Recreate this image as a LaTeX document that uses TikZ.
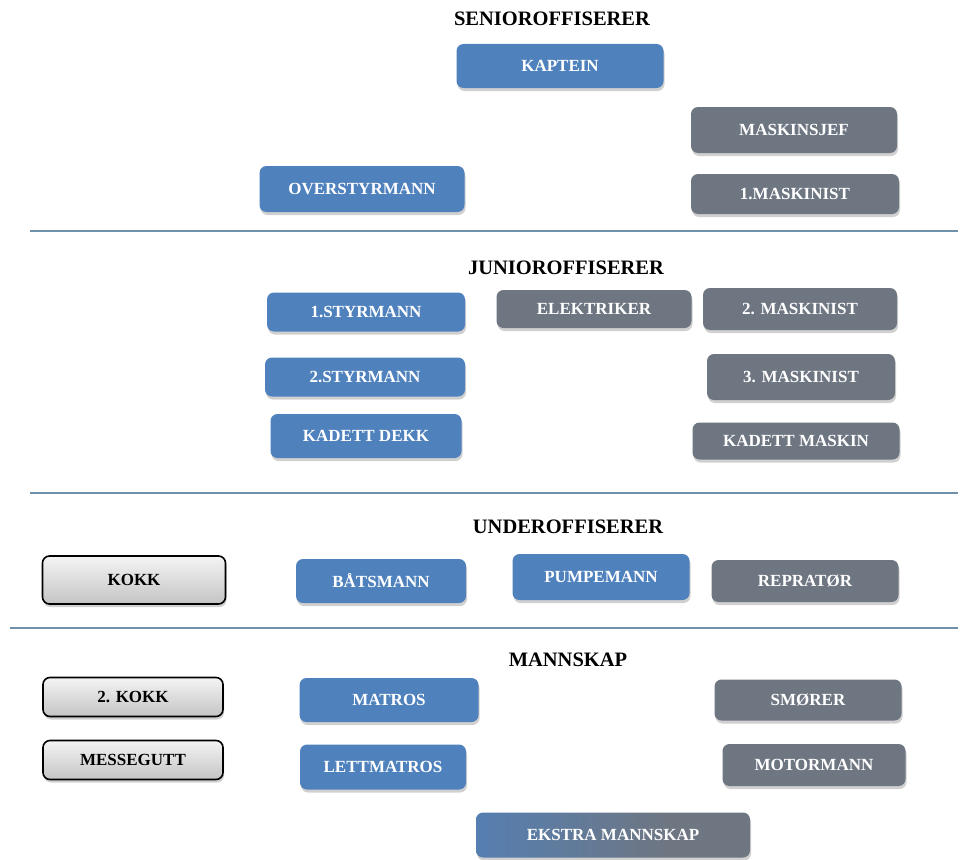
\documentclass[tikz,border=0pt]{standalone}
\usepackage{fontspec}
\setmainfont{Liberation Serif}
\usetikzlibrary{shadows}

\definecolor{crewblue}{RGB}{79,129,189}
\definecolor{crewgray}{RGB}{110,118,130}
\definecolor{ruleblue}{RGB}{110,145,170}
\definecolor{galleytop}{RGB}{244,244,244}
\definecolor{galleybot}{RGB}{196,196,196}

% blue fading into gray for the mixed box
\pgfdeclarehorizontalshading{bluetogray}{100bp}{
  color(0bp)=(crewblue); color(25bp)=(crewblue!80!crewgray);
  color(60bp)=(crewgray); color(100bp)=(crewgray)}

\tikzset{
  rolebox/.style={rounded corners=7pt, align=center, inner sep=0pt,
    font=\fontsize{17}{19}\selectfont\bfseries,
    drop shadow={shadow xshift=1pt, shadow yshift=-3pt, opacity=0.3, fill=black!60}},
  deckbox/.style={rolebox, fill=crewblue, text=white},
  enginebox/.style={rolebox, fill=crewgray, text=white},
  galleybox/.style={rolebox, draw=black, line width=1.6pt, top color=galleytop,
    bottom color=galleybot, text=black},
  mixedbox/.style={rolebox, shading=bluetogray, text=white},
  rankhead/.style={font=\fontsize{20.5}{23}\selectfont\bfseries, text=black},
  rankrule/.style={draw=ruleblue, line width=1.6pt}
}

\begin{document}
\begin{tikzpicture}[x=1pt, y=-1pt]
\useasboundingbox[fill=white] (0,0) rectangle (960,859);

% ---- senior officers ----
\node[rankhead] (senior) at (552,19) {SENIOROFFISERER};
\node[deckbox, minimum width=207pt, minimum height=44pt] (kaptein) at (560,66) {KAPTEIN};
\node[enginebox, minimum width=206pt, minimum height=46pt] (maskinsjef) at (794,130) {MASKINSJEF};
\node[deckbox, minimum width=205pt, minimum height=46pt] (overstyrmann) at (362,189) {OVERSTYRMANN};
\node[enginebox, minimum width=208pt, minimum height=40pt] (maskinist1) at (795,194) {1.MASKINIST};

\draw[rankrule] (30,231) -- (958,231);

% ---- junior officers ----
\node[rankhead] (junior) at (566,268) {JUNIOROFFISERER};
\node[deckbox, minimum width=198pt, minimum height=39pt] (styrmann1) at (366,312) {1.STYRMANN};
\node[enginebox, minimum width=195pt, minimum height=38pt] (elektriker) at (594,309) {ELEKTRIKER};
\node[enginebox, minimum width=194pt, minimum height=42pt] (maskinist2) at (800,309) {2. MASKINIST};
\node[deckbox, minimum width=200pt, minimum height=39pt] (styrmann2) at (365,377) {2.STYRMANN};
\node[enginebox, minimum width=188pt, minimum height=46pt] (maskinist3) at (801,377) {3. MASKINIST};
\node[deckbox, minimum width=191pt, minimum height=44pt] (kadettdekk) at (366,436) {KADETT DEKK};
\node[enginebox, minimum width=207pt, minimum height=37pt] (kadettmaskin) at (796,441) {KADETT MASKIN};

\draw[rankrule] (30,493) -- (958,493);

% ---- petty officers ----
\node[rankhead] (under) at (568,527) {UNDEROFFISERER};
\node[galleybox, minimum width=183pt, minimum height=48pt] (kokk) at (134,580) {KOKK};
\node[deckbox, minimum width=170pt, minimum height=44pt] (batsmann) at (381,581) {BÅTSMANN};
\node[deckbox, minimum width=177pt, minimum height=46pt] (pumpemann) at (601,577) {PUMPEMANN};
\node[enginebox, minimum width=187pt, minimum height=42pt] (reprator) at (805,581) {REPRATØR};

\draw[rankrule] (10,628) -- (958,628);

% ---- crew ----
\node[rankhead] (mannskap) at (568,660) {MANNSKAP};
\node[galleybox, minimum width=180pt, minimum height=39pt] (kokk2) at (133,697) {2. KOKK};
\node[deckbox, minimum width=179pt, minimum height=44pt] (matros) at (389,700) {MATROS};
\node[enginebox, minimum width=187pt, minimum height=41pt] (smorer) at (808,700) {SMØRER};
\node[galleybox, minimum width=180pt, minimum height=39pt] (messegutt) at (133,760) {MESSEGUTT};
\node[deckbox, minimum width=166pt, minimum height=45pt] (lettmatros) at (383,767) {LETTMATROS};
\node[enginebox, minimum width=183pt, minimum height=42pt] (motormann) at (814,765) {MOTORMANN};
\node[mixedbox, minimum width=274pt, minimum height=45pt] (ekstra) at (613,835) {EKSTRA MANNSKAP};

\end{tikzpicture}
\end{document}
